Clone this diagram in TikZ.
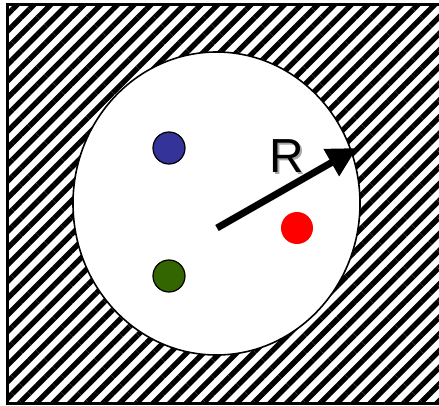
\documentclass[tikz,border=0pt]{standalone}
\usepackage{fontspec}
\setsansfont{Liberation Sans}
\usetikzlibrary{arrows.meta,patterns.meta}
\definecolor{azul}{RGB}{51,51,153}
\definecolor{verde}{RGB}{51,102,0}
\begin{document}
\begin{tikzpicture}[x=0.25mm,y=-0.25mm]
\tikzset{
    >={Triangle[length=7.4mm,width=7.4mm]},
    borda/.style={line width=0.75mm, draw=black},
    listras/.style={pattern={Lines[angle=45,distance=8.4pt,line width=3.8pt]}},
    regiao/.style={fill=white, draw=black, line width=0.4mm},
    carga/.style={circle, draw=black, line width=0.3mm, minimum size=8mm, inner sep=0pt},
    raio/.style={->, line width=1.75mm, line cap=butt},
    rotulo/.style={font=\sffamily\fontsize{34}{34}\selectfont}
}
\clip (0,0) rectangle (439,406);
% Região externa hachurada
\fill[listras] (7.5,4.5) rectangle (446,403.5);
\draw[borda]   (7.5,4.5) rectangle (446,403.5);
% Região interna
\coordinate (centro) at (216.5,203.5);
\draw[regiao] (centro) ellipse [x radius=143.5, y radius=151.5];
% Cargas
\node[carga, fill=azul]              (q1) at (169,148) {};
\node[carga, fill=verde]             (q2) at (169,276) {};
\node[carga, fill=red, draw=none]    (q3) at (297,228) {};
% Raio
\coordinate (base) at (217,228);
\coordinate (ponta) at (357,148);
\draw[raio] (base) -- (ponta);
\node[rotulo, text=black!35] (Rsombra) at (289,158.5) {R};
\node[rotulo]                (R)       at (287,156.5) {R};
\end{tikzpicture}
\end{document}
